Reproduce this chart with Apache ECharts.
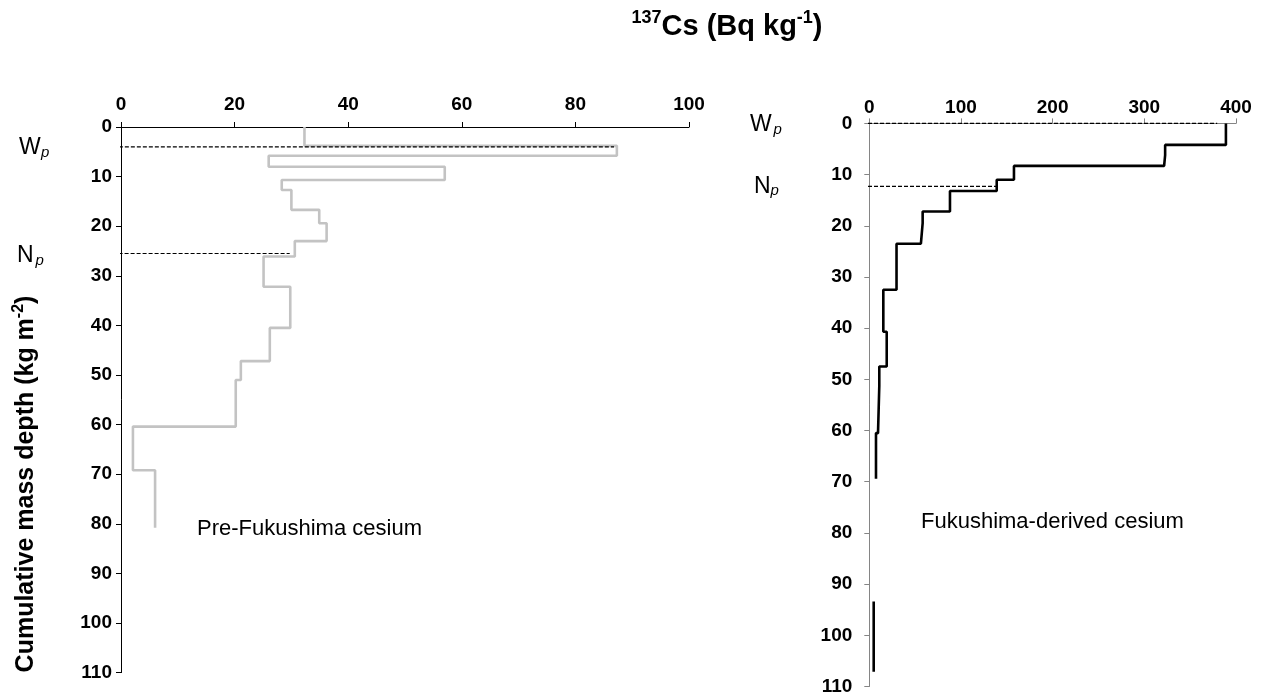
<!DOCTYPE html>
<html>
<head>
<meta charset="utf-8">
<script src="https://cdn.jsdelivr.net/npm/echarts@6/dist/echarts.min.js"></script>
<style>
  html, body { margin: 0; padding: 0; background: #ffffff; }
  #chart { width: 1264px; height: 696px; }
</style>
</head>
<body>
<div id="chart"></div>
<script>
// Pre-Fukushima 137Cs profile: layer top / bottom (kg m-2) and activity (Bq kg-1)
const preTop    = [0, 3.8, 5.8, 8.0, 10.7, 12.7, 16.7, 19.4, 23.0, 26.1, 32.2, 40.5, 47.2, 51.0, 60.4, 69.2];
const preBottom = [3.8, 5.8, 8.0, 10.7, 12.7, 16.7, 19.4, 23.0, 26.1, 32.2, 40.5, 47.2, 51.0, 60.4, 69.2, 80.8];
const preCs     = [32.3, 87.3, 26.0, 57.0, 28.3, 30.0, 34.9, 36.2, 30.6, 25.1, 29.8, 26.2, 21.1, 20.2, 2.1, 6.0];

// Fukushima-derived 137Cs profile (no samples between 69.4 and 93.4 kg m-2)
const fukTop    = [0, 4.2, 6.2, 8.3, 11.0, 13.2, 17.2, 19.5, 23.5, 32.5, 40.7, 47.5, 51.3, 60.5, 93.4];
const fukBottom = [4.2, 6.2, 8.3, 11.0, 13.2, 17.2, 19.5, 23.5, 32.5, 40.7, 47.5, 51.3, 60.5, 69.4, 107.1];
const fukCs     = [389, 322.7, 321.6, 157.8, 139, 88, 58.2, 56.3, 29.7, 15.3, 19.0, 10.9, 9.5, 7.3, 4.8];

// Reference horizons W_p and N_p: depth and activity where the dashed line stops
const horizonNames  = ['W', 'N'];
const preHorizonDepth = [4.0, 25.5];
const preHorizonEnd   = [86.8, 29.7];
const fukHorizonDepth = [0, 12.3];
const fukHorizonEnd   = [379.5, 139];

// Axis ticks
const depthTicks = [0, 110, 10];      // min, max, interval
const preTicks   = [0, 100, 20];
const fukTicks   = [0, 400, 100];

const FONT = '"Liberation Sans", Arial, Helvetica, sans-serif';

// Turn layers into connected step outlines; a gap between layers starts a new outline
function stepOutlines(tops, bottoms, vals) {
  const outlines = [];
  let cur = null;
  for (let i = 0; i < vals.length; i++) {
    if (i === 0 || Math.abs(tops[i] - bottoms[i - 1]) > 1e-6) {
      cur = [];
      outlines.push(cur);
    }
    cur.push([vals[i], tops[i]]);
    cur.push([vals[i], bottoms[i]]);
  }
  return outlines;
}

function valueAxisX(ticks, grid, lineColor, labelMargin) {
  return {
    type: 'value', gridIndex: grid, position: 'top',
    min: ticks[0], max: ticks[1], interval: ticks[2],
    axisLine: { show: true, lineStyle: { color: lineColor, width: 1 } },
    axisTick: { show: true, inside: false, length: 5, lineStyle: { color: lineColor } },
    axisLabel: { color: '#000', fontFamily: FONT, fontWeight: 'bold', fontSize: 19, margin: labelMargin },
    splitLine: { show: false }
  };
}

function depthAxis(grid, lineColor, labelMargin) {
  return {
    type: 'value', gridIndex: grid, inverse: true,
    min: depthTicks[0], max: depthTicks[1], interval: depthTicks[2],
    axisLine: { show: true, onZero: false, lineStyle: { color: lineColor, width: 1 } },
    axisTick: { show: true, inside: false, length: 5, lineStyle: { color: lineColor } },
    axisLabel: { color: '#000', fontFamily: FONT, fontWeight: 'bold', fontSize: 19, margin: labelMargin },
    splitLine: { show: false }
  };
}

const series = [];
stepOutlines(preTop, preBottom, preCs).forEach(pts => series.push({
  type: 'line', xAxisIndex: 0, yAxisIndex: 0, data: pts, showSymbol: false, symbol: 'none',
  lineStyle: { color: '#c3c3c3', width: 2.6 }, z: 3, animation: false
}));
stepOutlines(fukTop, fukBottom, fukCs).forEach(pts => series.push({
  type: 'line', xAxisIndex: 1, yAxisIndex: 1, data: pts, showSymbol: false, symbol: 'none',
  lineStyle: { color: '#000', width: 2.6 }, z: 3, animation: false
}));

// dashed horizon lines reach left into the label margin
const preReach = [-12.0, -13.1];
const fukReach = [-86.5, -86.5];
horizonNames.forEach((n, i) => {
  series.push({
    type: 'line', xAxisIndex: 0, yAxisIndex: 0, clip: false, showSymbol: false, symbol: 'none',
    data: [[preReach[i], preHorizonDepth[i]], [preHorizonEnd[i], preHorizonDepth[i]]],
    lineStyle: { color: '#000', width: 1.2, type: [4, 2] }, z: 5, animation: false
  });
  series.push({
    type: 'line', xAxisIndex: 1, yAxisIndex: 1, clip: false, showSymbol: false, symbol: 'none',
    data: [[fukReach[i], fukHorizonDepth[i]], [fukHorizonEnd[i], fukHorizonDepth[i]]],
    lineStyle: { color: '#000', width: 1.2, type: [4, 2] }, z: 5, animation: false
  });
});

// horizon labels: capital letter with italic subscript p
function horizonLabel(letter, x, y, px, py) {
  return [
    { type: 'text', x: x, y: y, style: { text: letter, font: '23px ' + FONT, fill: '#000', textAlign: 'left', textVerticalAlign: 'middle' } },
    { type: 'text', x: px, y: py, style: { text: 'p', font: 'italic 15px ' + FONT, fill: '#000', textAlign: 'left', textVerticalAlign: 'middle' } }
  ];
}

const graphics = [].concat(
  horizonLabel(horizonNames[0], 19, 147.5, 41, 153),
  horizonLabel(horizonNames[1], 17, 256, 35.5, 261),
  horizonLabel(horizonNames[0], 750, 124.5, 773.5, 129.5),
  horizonLabel(horizonNames[1], 754, 186.7, 770.5, 190.5),
  [
    { type: 'text', x: 727, y: 25, style: {
        text: '{s|137}{m|Cs (Bq kg}{s|-1}{m|)}', textAlign: 'center', textVerticalAlign: 'middle',
        rich: {
          m: { font: 'bold 29px ' + FONT, fill: '#000', lineHeight: 32, verticalAlign: 'bottom' },
          s: { font: 'bold 18px ' + FONT, fill: '#000', lineHeight: 22, verticalAlign: 'top' }
        } } },
    { type: 'text', x: 25, y: 484, rotation: Math.PI / 2, style: {
        text: '{m|Cumulative mass depth (kg m}{s|-2}{m|)}', textAlign: 'center', textVerticalAlign: 'middle',
        rich: {
          m: { font: 'bold 25px ' + FONT, fill: '#000', lineHeight: 28, verticalAlign: 'bottom' },
          s: { font: 'bold 16px ' + FONT, fill: '#000', lineHeight: 20, verticalAlign: 'top' }
        } } },
    { type: 'text', x: 197, y: 529, style: { text: 'Pre-Fukushima cesium', font: '22px ' + FONT, fill: '#000', textAlign: 'left', textVerticalAlign: 'middle' } },
    { type: 'text', x: 921, y: 522, style: { text: 'Fukushima-derived cesium', font: '22px ' + FONT, fill: '#000', textAlign: 'left', textVerticalAlign: 'middle' } }
  ]
);

const chart = echarts.init(document.getElementById('chart'), null, { renderer: 'canvas' });
chart.setOption({
  backgroundColor: '#ffffff',
  animation: false,
  grid: [
    { left: 121, top: 127, width: 568, height: 545.6, containLabel: false },
    { left: 869.3, top: 123.4, width: 366.7, height: 564.3, containLabel: false }
  ],
  xAxis: [
    valueAxisX(preTicks, 0, '#000', 13),
    valueAxisX(fukTicks, 1, '#858585', 6)
  ],
  yAxis: [
    depthAxis(0, '#000', 9),
    depthAxis(1, '#858585', 17)
  ],
  series: series,
  graphic: graphics
});
</script>
</body>
</html>
